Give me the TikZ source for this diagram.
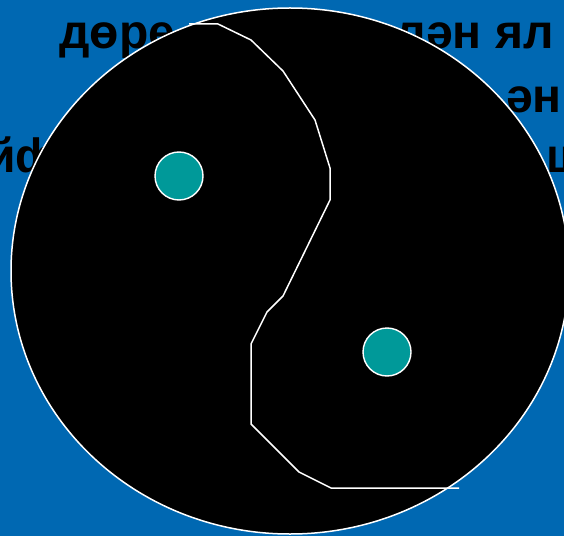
\documentclass[tikz,border=0pt]{standalone}
\usepackage{fontspec}
\setmainfont{Liberation Sans}
\definecolor{bgblue}{RGB}{0,104,178}
\definecolor{dotteal}{RGB}{0,153,153}
\begin{document}
\begin{tikzpicture}[x=1pt,y=1pt,
  txt/.style={inner sep=0pt,font=\fontsize{48}{58}\selectfont\bfseries,text=black},
  dotnode/.style={circle,fill=dotteal,draw=white,line width=1.4pt,minimum size=48pt,inner sep=0pt},
  curve/.style={draw=white,line width=1.5pt,line join=miter}]
\useasboundingbox (0,0) rectangle (564,536);
\clip (0,0) rectangle (564,536);
\fill[bgblue] (0,0) rectangle (564,536);
% text fragments behind the disc
\node[txt,anchor=base west] (t1a) at (59,487) {дөре};
\node[txt,anchor=base east] (t1b) at (554,487) {лән ял};
\node[txt,anchor=base east] (t2) at (562,423) {ән};
\node[txt,anchor=base east] (t3a) at (58,363) {йф};
\node[txt,anchor=base west] (t3b) at (546,363) {ш};
% disc
\fill[black] (290,265) ellipse [x radius=279, y radius=263];
\draw[white,line width=1.5pt] (290,265) ellipse [x radius=279, y radius=263];
% dividing line
\draw[curve] (189,512) -- (218,512) -- (251,496) -- (283,465) -- (315,416)
  -- (330,368) -- (330,336) -- (283,240) -- (267,224) -- (251,192)
  -- (251,112) -- (299,64) -- (331,48) -- (459,48);
% dots
\node[dotnode] (d1) at (179,360) {};
\node[dotnode] (d2) at (387,184) {};
\end{tikzpicture}
\end{document}
